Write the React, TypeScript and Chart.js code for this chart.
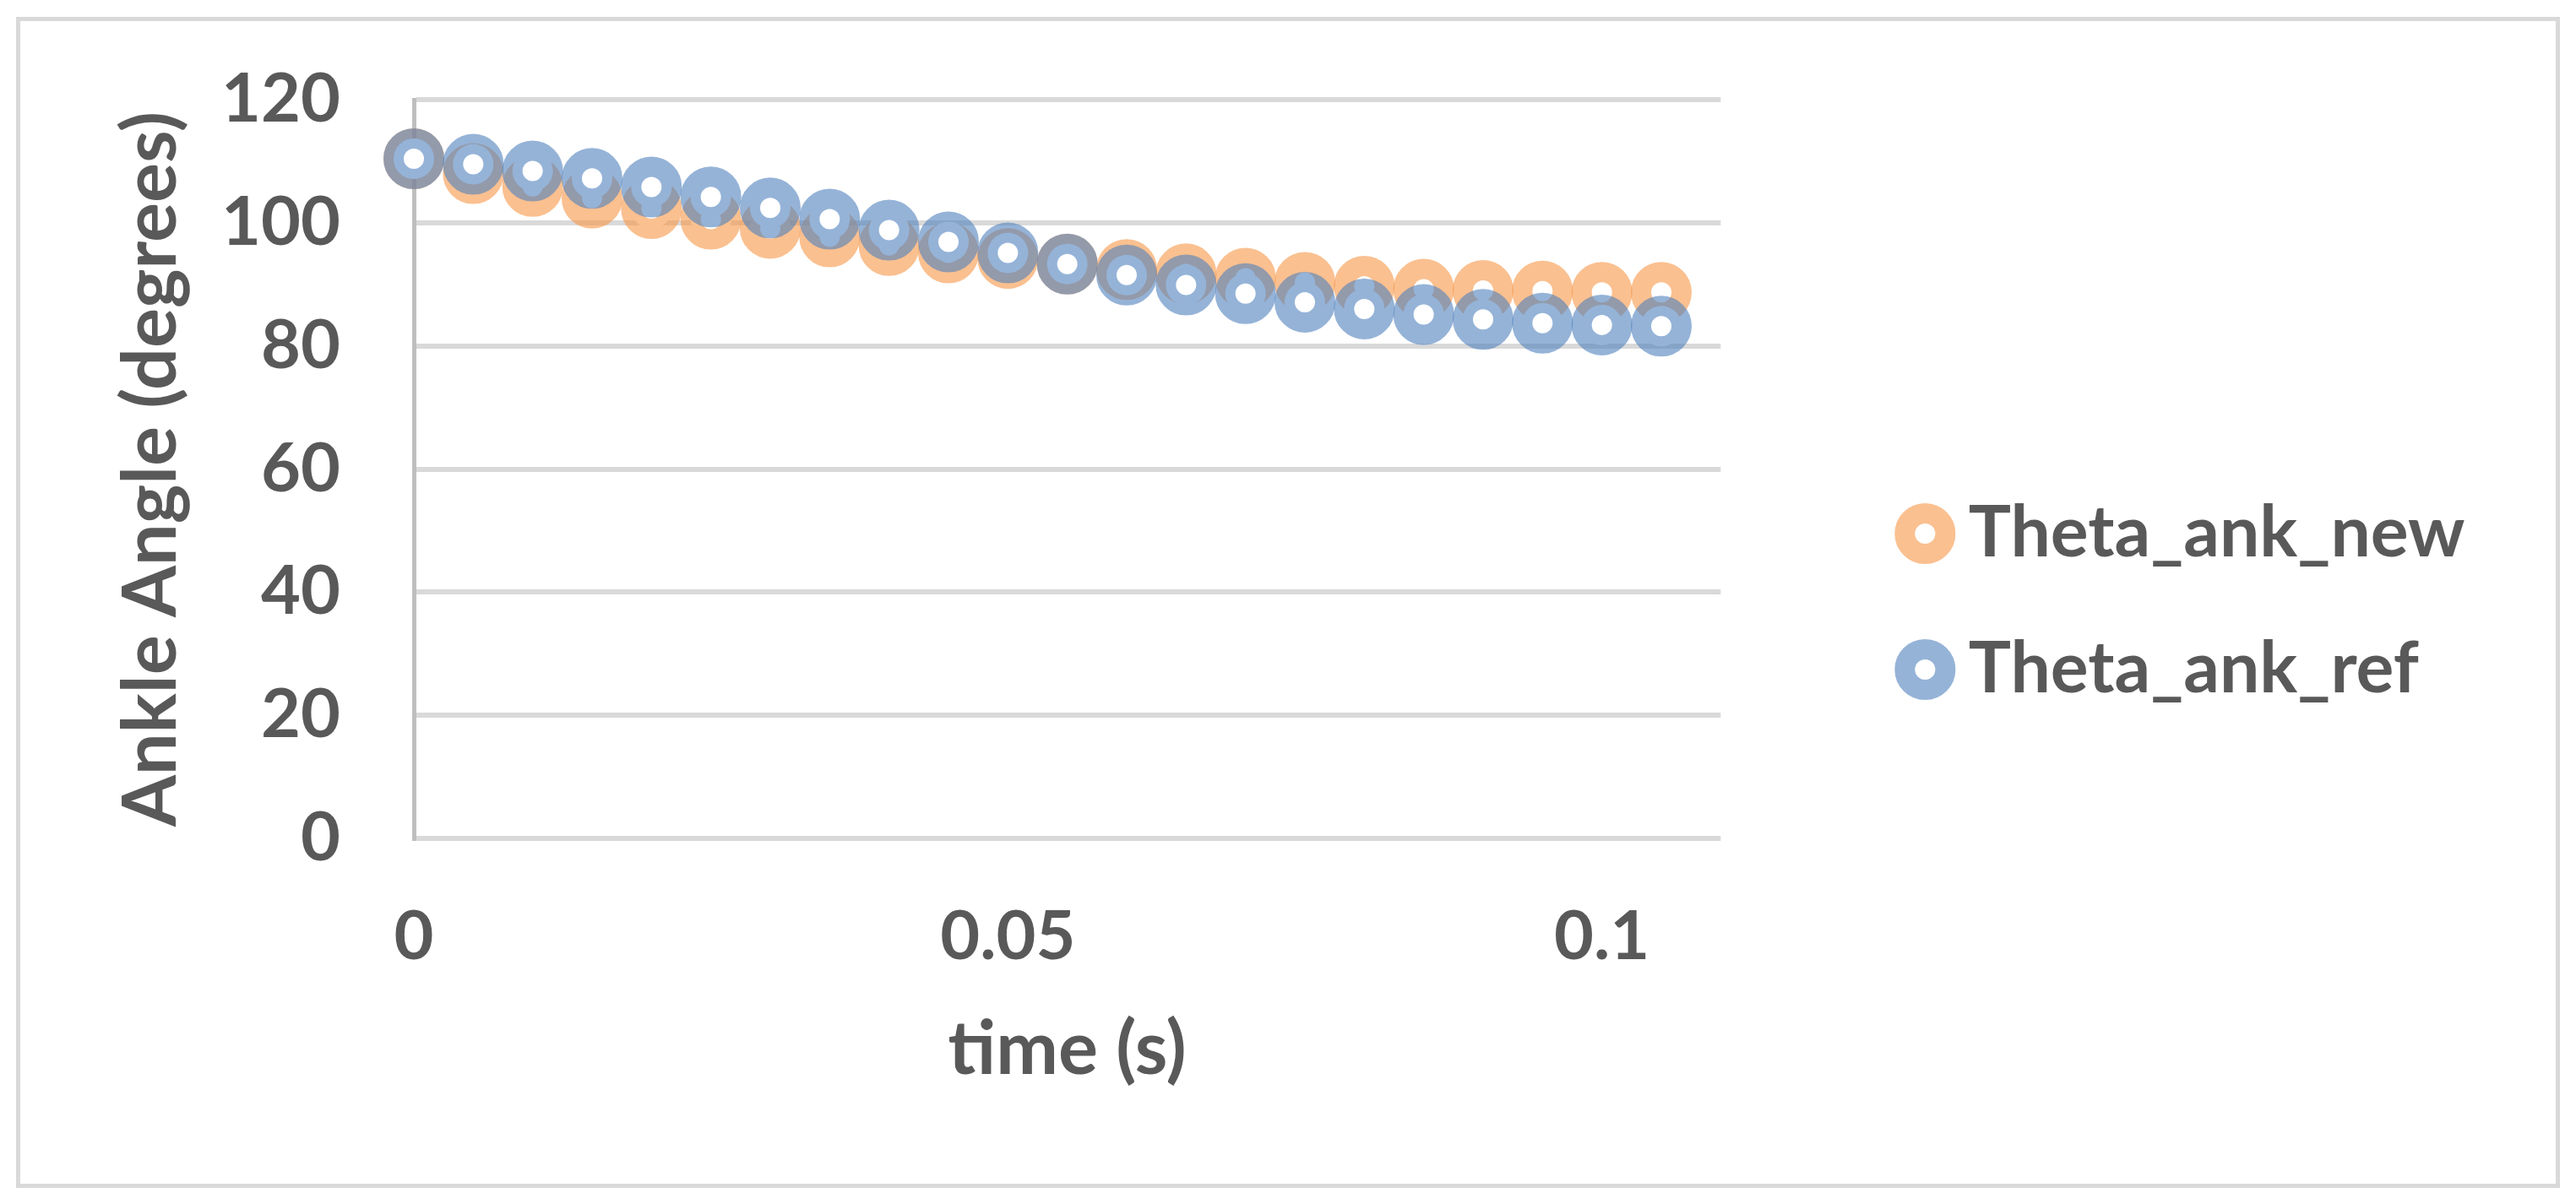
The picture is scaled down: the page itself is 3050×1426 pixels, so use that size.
import React, { useEffect, useRef } from "react";
import { Chart, registerables } from "chart.js";

Chart.register(...registerables);

// ---- data ----
const timeS = [
  0, 0.005, 0.01, 0.015, 0.02, 0.025, 0.03, 0.035, 0.04, 0.045, 0.05,
  0.055, 0.06, 0.065, 0.07, 0.075, 0.08, 0.085, 0.09, 0.095, 0.1, 0.105,
];
const thetaAnkNew = [
  110.4, 108.0, 105.9, 104.0, 102.3, 100.6, 99.1, 97.7, 96.3, 95.1, 94.2,
  93.3, 92.4, 91.7, 91.0, 90.3, 89.7, 89.2, 89.0, 88.9, 88.7, 88.7,
];
const thetaAnkRef = [
  110.4, 109.5, 108.4, 107.2, 105.8, 104.2, 102.4, 100.6, 98.8, 96.9, 95.1,
  93.3, 91.5, 89.9, 88.5, 87.1, 86.0, 85.1, 84.3, 83.7, 83.4, 83.2,
];
const seriesNames = ["Theta_ank_new", "Theta_ank_ref"];
const xAxisTitle = "time (s)";
const yAxisTitle = "Ankle Angle (degrees)";
const xRange = [0, 0.11];
const xStep = 0.05;
const yRange = [0, 120];
const yStep = 20;

export default function App() {
  const canvasRef = useRef<HTMLCanvasElement>(null);

  useEffect(() => {
    document.body.style.margin = "0";
    document.body.style.overflow = "hidden";
    const textColor = "#595959";
    const tickFont = { family: "Lato", size: 81, weight: "bold" as const };
    const yTitleFont = { family: "Lato", size: 88, weight: "bold" as const };
    const xTitleFont = { family: "Lato", size: 88, weight: "bold" as const };
    const legendFont = { family: "Lato", size: 84, weight: "bold" as const };

    const framePlugin = {
      id: "frame",
      beforeDraw(c: any) {
        const ctx = c.ctx;
        ctx.save();
        ctx.fillStyle = "#ffffff";
        ctx.fillRect(0, 0, c.width, c.height);
        ctx.strokeStyle = "#d9d9d9";
        ctx.lineWidth = 5;
        ctx.strokeRect(21.5, 22.5, 3007, 1382);
        ctx.restore();
      },
    };

    const mk = (vals: number[]) => timeS.map((t, i) => ({ x: t, y: vals[i] }));

    const chart = new Chart(canvasRef.current as HTMLCanvasElement, {
      type: "scatter",
      data: {
        datasets: [
          {
            label: seriesNames[0],
            data: mk(thetaAnkNew),
            pointStyle: "circle",
            pointRadius: 24,
            pointHoverRadius: 24,
            borderWidth: 24,
            pointBorderWidth: 24,
            backgroundColor: "#ffffff",
            borderColor: "rgba(247,150,70,0.6)",
            order: 1,
            clip: false,
          } as any,
          {
            label: seriesNames[1],
            data: mk(thetaAnkRef),
            pointStyle: "circle",
            pointRadius: 24,
            pointHoverRadius: 24,
            borderWidth: 24,
            pointBorderWidth: 24,
            backgroundColor: "#ffffff",
            borderColor: "rgba(79,129,189,0.6)",
            order: 0,
            clip: false,
          } as any,
        ],
      },
      options: {
        animation: false,
        responsive: false,
        devicePixelRatio: 1,
        events: [],
        layout: { padding: { left: 0, top: 118, right: 121.5, bottom: 119 } },
        plugins: {
          tooltip: { enabled: false },
          legend: {
            display: true,
            position: "right",
            align: "center",
            maxWidth: 1200,
            labels: {
              usePointStyle: true,
              pointStyle: "circle",
              boxWidth: 19,
              boxHeight: 34,
              padding: 77,
              color: textColor,
              font: legendFont,
              sort: (a: any, b: any) => a.datasetIndex - b.datasetIndex,
            },
          } as any,
        },
        scales: {
          x: {
            type: "linear",
            position: "bottom",
            min: xRange[0],
            max: xRange[1],
            afterFit: (s: any) => {
              s.height = 314;
              s.paddingLeft = 0;
              s.paddingRight = 0;
            },
            grid: { display: false, drawTicks: false },
            border: { display: false },
            ticks: {
              stepSize: xStep,
              includeBounds: false,
              padding: 68,
              color: textColor,
              font: tickFont,
              maxRotation: 0,
              autoSkip: false,
              callback: (v: any) => String(Number(Number(v).toFixed(4))),
            },
            title: {
              display: true,
              text: xAxisTitle,
              color: textColor,
              font: xTitleFont,
              padding: { top: 0, bottom: 11 },
            },
          } as any,
          y: {
            type: "linear",
            position: "left",
            min: yRange[0],
            max: yRange[1],
            afterFit: (s: any) => {
              s.width = 490;
              s.paddingTop = 0;
              s.paddingBottom = 0;
            },
            grid: { color: "#d9d9d9", lineWidth: 6, drawTicks: false },
            border: { display: true, color: "#bfbfbf", width: 5 },
            ticks: { stepSize: yStep, padding: 87, color: textColor, font: tickFont },
            title: {
              display: true,
              text: yAxisTitle,
              color: textColor,
              font: yTitleFont,
              padding: { top: 127, bottom: 0 },
            },
          } as any,
          gap: {
            type: "linear",
            position: "right",
            display: true,
            afterFit: (s: any) => {
              s.width = 155.5;
              s.paddingTop = 0;
              s.paddingBottom = 0;
            },
            grid: { display: false, drawTicks: false },
            border: { display: false },
            ticks: { display: false },
          } as any,
        },
      },
      plugins: [framePlugin],
    });

    return () => chart.destroy();
  }, []);

  return (
    <div style={{ width: 3050, height: 1426 }}>
      <canvas
        ref={canvasRef}
        width={3050}
        height={1426}
        style={{ display: "block", width: 3050, height: 1426 }}
      />
    </div>
  );
}
